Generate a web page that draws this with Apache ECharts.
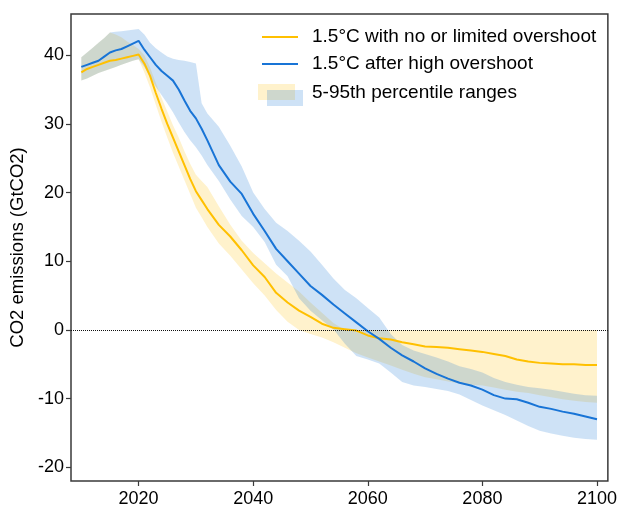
<!DOCTYPE html>
<html>
<head>
<meta charset="utf-8">
<script src="https://cdn.jsdelivr.net/npm/echarts@6/dist/echarts.min.js"></script>
<style>
  html, body { margin: 0; padding: 0; background: #fff; }
  #chart { width: 620px; height: 508px; }
</style>
</head>
<body>
<div id="chart"></div>
<script>
// Years: annual through 2032, then every second year to 2100
const years = [
  2010, 2011, 2012, 2013, 2014, 2015, 2016, 2017, 2018, 2019, 2020, 2021, 2022,
  2023, 2024, 2025, 2026, 2027, 2028, 2029, 2030, 2031, 2032,
  2034, 2036, 2038, 2040, 2042, 2044, 2046, 2048, 2050, 2052, 2054, 2056, 2058,
  2060, 2062, 2064, 2066, 2068, 2070, 2072, 2074, 2076, 2078, 2080, 2082, 2084,
  2086, 2088, 2090, 2092, 2094, 2096, 2098, 2100
];

// 1.5°C with no or limited overshoot (GtCO2)
const noOvershootMedian = [
  37.5, 38.0, 38.3, 38.6, 38.9, 39.2, 39.3, 39.5, 39.7, 39.9, 40.1, 38.8, 37.0,
  34.5, 32.2, 30.0, 28.0, 26.0, 24.0, 22.0, 20.2, 18.9, 17.6,
  15.3, 13.6, 11.6, 9.4, 7.7, 5.4, 4.0, 2.8, 1.9, 0.9, 0.3, 0.1, -0.1,
  -0.8, -1.2, -1.4, -1.8, -2.1, -2.4, -2.5, -2.6, -2.8, -3.0, -3.2, -3.5, -3.8,
  -4.3, -4.6, -4.8, -4.9, -5.0, -5.0, -5.1, -5.1
];
const noOvershootP5 = [
  36.3, 36.6, 37.0, 37.4, 37.7, 38.0, 38.3, 38.6, 38.9, 39.2, 39.4, 37.5, 35.3,
  32.8, 30.3, 28.0, 25.8, 23.8, 21.8, 19.8, 17.8, 16.4, 15.0,
  12.6, 10.8, 8.8, 6.8, 5.0, 2.9, 1.2, 0.0, -0.6, -1.1, -1.8, -2.6, -3.4,
  -4.0, -4.6, -5.2, -5.8, -6.4, -6.9, -7.2, -7.5, -7.8, -8.0, -8.1, -8.4, -8.7,
  -9.0, -9.2, -9.5, -9.8, -10.1, -10.3, -10.5, -10.6
];
const noOvershootP95 = [
  39.7, 40.4, 41.1, 41.8, 42.5, 43.3, 43.0, 42.6, 42.0, 41.5, 40.9, 40.0, 38.2,
  36.0, 33.8, 31.8, 29.8, 28.0, 26.0, 24.2, 22.6, 21.7, 20.8,
  18.0, 15.3, 13.0, 11.2, 9.7, 8.2, 6.9, 5.6, 4.0, 2.5, 1.0, 0.0, 0.0,
  0.0, 0.0, 0.0, 0.0, 0.0, 0.0, 0.0, 0.0, 0.0, 0.0, 0.0, 0.0, 0.0,
  0.0, 0.0, 0.0, 0.0, 0.0, 0.0, 0.0, 0.0
];

// 1.5°C after high overshoot (GtCO2)
const highOvershootMedian = [
  38.3, 38.6, 38.9, 39.2, 39.8, 40.4, 40.7, 40.9, 41.3, 41.7, 42.1, 40.8, 39.7,
  38.6, 37.7, 37.0, 36.3, 35.0, 33.4, 31.9, 30.8, 29.3, 27.6,
  24.0, 21.6, 19.8, 16.9, 14.4, 11.8, 10.0, 8.2, 6.4, 5.1, 3.7, 2.4, 1.1,
  -0.2, -1.3, -2.6, -3.7, -4.6, -5.6, -6.4, -7.1, -7.7, -8.1, -8.7, -9.5, -10.0,
  -10.1, -10.6, -11.2, -11.5, -11.9, -12.2, -12.6, -13.0
];
const highOvershootP5 = [
  36.3, 36.6, 37.0, 37.4, 37.7, 38.0, 38.3, 38.6, 38.9, 39.2, 39.4, 38.3, 36.8,
  35.4, 34.2, 33.0, 31.7, 30.2, 28.8, 27.6, 26.6, 25.4, 24.0,
  21.7, 19.0, 16.6, 15.0, 12.8, 9.5, 7.8, 4.6, 2.8, 1.4, 0.1, -2.0, -3.8,
  -4.3, -4.9, -6.2, -7.6, -8.1, -8.3, -8.6, -8.9, -9.4, -10.2, -11.0, -11.7, -12.4,
  -13.2, -14.0, -14.7, -15.1, -15.4, -15.7, -15.9, -16.0
];
const highOvershootP95 = [
  39.7, 40.4, 41.1, 41.8, 42.5, 43.3, 43.4, 43.5, 43.6, 43.7, 43.8, 43.0, 41.8,
  41.0, 40.4, 39.8, 39.5, 39.3, 39.2, 39.0, 38.8, 33.0, 31.5,
  29.6, 26.8, 23.8, 20.0, 17.6, 15.6, 14.4, 13.0, 11.4, 9.5, 7.5, 5.8, 4.6,
  3.2, 1.8, -0.6, -2.2, -3.0, -3.5, -4.0, -4.6, -5.3, -5.7, -6.2, -7.0, -7.6,
  -8.0, -8.3, -8.5, -8.7, -9.0, -9.3, -9.5, -9.6
];

const xTicks = [2020, 2040, 2060, 2080, 2100];
const yTicks = [-20, -10, 0, 10, 20, 30, 40];

const labels = {
  noOvershoot: '1.5°C with no or limited overshoot',
  highOvershoot: '1.5°C after high overshoot',
  ranges: '5-95th percentile ranges',
  yTitle: 'CO2 emissions (GtCO2)'
};

const YELLOW = '#FFC000';
const BLUE = '#1874D6';
const YELLOW_FILL = 'rgba(255,192,0,0.2)';
const BLUE_FILL = 'rgba(24,116,214,0.21)';
const FONT = '"Liberation Sans", Arial, Helvetica, sans-serif';

const pairs = (vals) => years.map((y, i) => [y, vals[i]]);

// A percentile band drawn as one filled polygon: along the 95th percentile
// forwards in time, then back along the 5th percentile.
function band(name, lo, hi, fill) {
  return {
    name: name, type: 'custom', silent: true, z: 1,
    data: years.map((y, i) => [y, lo[i], hi[i]]),
    encode: { x: 0, y: [1, 2] },
    renderItem: function (params, api) {
      if (params.dataIndex !== 0) return null;
      const pts = [];
      for (let i = 0; i < years.length; i++) pts.push(api.coord([years[i], hi[i]]));
      for (let i = years.length - 1; i >= 0; i--) pts.push(api.coord([years[i], lo[i]]));
      return { type: 'polygon', shape: { points: pts }, style: { fill: fill, stroke: null } };
    }
  };
}

const chart = echarts.init(document.getElementById('chart'), null, { renderer: 'canvas' });

const legendX = 262, legendText = 312;
const legendRows = [37, 64, 93];
const legendFont = '19px ' + FONT;

chart.setOption({
  animation: false,
  backgroundColor: '#fff',
  textStyle: { fontFamily: FONT },
  grid: {
    left: 71, top: 14, width: 541, height: 472,
    show: true, borderColor: '#3a3a3a', borderWidth: 1.5, backgroundColor: 'transparent'
  },
  xAxis: {
    type: 'value', min: 2008.2, max: 2101.9,
    axisLine: { show: false, onZero: false },
    splitLine: { show: false },
    axisTick: { show: true, customValues: xTicks, length: 5, lineStyle: { color: '#3a3a3a', width: 1.2 } },
    axisLabel: {
      customValues: xTicks, color: '#000', fontSize: 18, margin: 9, fontFamily: FONT,
      formatter: (v) => String(v)
    }
  },
  yAxis: {
    type: 'value', min: -22, max: 46,
    axisLine: { show: false, onZero: false },
    splitLine: { show: false },
    axisTick: { show: true, customValues: yTicks, length: 5, lineStyle: { color: '#3a3a3a', width: 1.2 } },
    axisLabel: { customValues: yTicks, color: '#000', fontSize: 18, margin: 7, fontFamily: FONT },
    name: labels.yTitle, nameLocation: 'middle', nameGap: 42,
    nameTextStyle: { fontSize: 18.5, color: '#000', fontFamily: FONT }
  },
  series: [
    band('noOvershootBand', noOvershootP5, noOvershootP95, YELLOW_FILL),
    band('highOvershootBand', highOvershootP5, highOvershootP95, BLUE_FILL),
    {
      name: labels.noOvershoot, type: 'line', data: pairs(noOvershootMedian),
      symbol: 'none', lineStyle: { color: YELLOW, width: 2 }, z: 3,
      markLine: {
        silent: true, symbol: 'none', label: { show: false },
        lineStyle: { type: 'dotted', color: '#111', width: 1 },
        data: [{ yAxis: 0 }]
      }
    },
    {
      name: labels.highOvershoot, type: 'line', data: pairs(highOvershootMedian),
      symbol: 'none', lineStyle: { color: BLUE, width: 2 }, z: 4
    }
  ],
  graphic: [
    { type: 'line', shape: { x1: legendX, y1: legendRows[0], x2: legendX + 36, y2: legendRows[0] }, style: { stroke: YELLOW, lineWidth: 2 } },
    { type: 'text', x: legendText, y: legendRows[0], style: { text: labels.noOvershoot, fill: '#000', font: legendFont, verticalAlign: 'middle' } },
    { type: 'line', shape: { x1: legendX, y1: legendRows[1], x2: legendX + 36, y2: legendRows[1] }, style: { stroke: BLUE, lineWidth: 2 } },
    { type: 'text', x: legendText, y: legendRows[1], style: { text: labels.highOvershoot, fill: '#000', font: legendFont, verticalAlign: 'middle' } },
    { type: 'rect', shape: { x: legendX - 4, y: legendRows[2] - 9, width: 37, height: 16 }, style: { fill: YELLOW_FILL } },
    { type: 'rect', shape: { x: legendX + 5, y: legendRows[2] - 3, width: 36, height: 16 }, style: { fill: BLUE_FILL } },
    { type: 'text', x: legendText, y: legendRows[2], style: { text: labels.ranges, fill: '#000', font: legendFont, verticalAlign: 'middle' } }
  ]
});
</script>
</body>
</html>
